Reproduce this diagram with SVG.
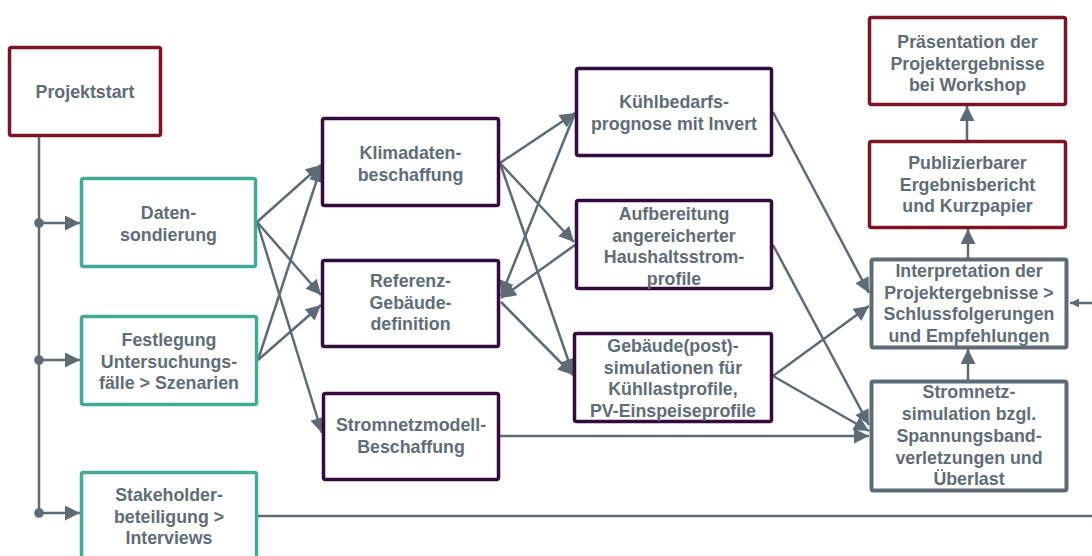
<svg xmlns="http://www.w3.org/2000/svg" width="1092" height="556" viewBox="0 0 1092 556">
<style>
.box{fill:#fff;stroke-width:3.5}
.red{stroke:#7b1523}
.pur{stroke:#340b3d}
.teal{stroke:#45aa95}
.gray{stroke:#5e6b74;stroke-width:4}
text{font-family:"Liberation Sans",Arial,sans-serif;font-weight:bold;font-size:17.8px;fill:#5f6d77;text-anchor:middle}
.c{stroke:#5e6b74;stroke-width:2.5;fill:none}
.a{marker-end:url(#ah)}
</style>
<defs>
<marker id="ah" viewBox="0 0 10 10" refX="10" refY="5" markerWidth="16" markerHeight="15" markerUnits="userSpaceOnUse" orient="auto">
<path d="M0,0 L10,5 L0,10 z" fill="#5e6b74"/>
</marker>
<marker id="ahs" viewBox="0 0 10 10" refX="10" refY="5" markerWidth="9" markerHeight="9" markerUnits="userSpaceOnUse" orient="auto">
<path d="M0,0 L10,5 L0,10 z" fill="#5e6b74"/>
</marker>
</defs>
<g id="connectors">
<line class="c" x1="39" y1="137" x2="39" y2="513"/>
<circle cx="39" cy="223" r="4.8" fill="#5e6b74"/>
<circle cx="39" cy="360" r="4.8" fill="#5e6b74"/>
<circle cx="39" cy="513" r="4.8" fill="#5e6b74"/>
<line class="c a" x1="39" y1="223" x2="80" y2="223"/>
<line class="c a" x1="39" y1="360" x2="80" y2="360"/>
<line class="c a" x1="39" y1="513" x2="80" y2="513"/>
<line class="c a" x1="257" y1="222" x2="321" y2="165"/>
<line class="c a" x1="257" y1="222" x2="321" y2="295"/>
<line class="c a" x1="257" y1="222" x2="322" y2="433"/>
<line class="c a" x1="258" y1="360" x2="321" y2="167"/>
<line class="c a" x1="258" y1="360" x2="321" y2="305"/>
<line class="c a" x1="500" y1="163" x2="575" y2="113"/>
<line class="c a" x1="500" y1="163" x2="574" y2="242"/>
<line class="c a" x1="500" y1="163" x2="573" y2="374"/>
<line class="c a" x1="575" y1="113" x2="501" y2="296"/>
<line class="c a" x1="575" y1="245" x2="501" y2="298"/>
<line class="c a" x1="501" y1="302" x2="573" y2="375"/>
<line class="c a" x1="773" y1="112" x2="869" y2="293"/>
<line class="c a" x1="773" y1="376" x2="869" y2="306"/>
<line class="c a" x1="773" y1="245" x2="869" y2="425"/>
<line class="c a" x1="773" y1="376" x2="869" y2="431"/>
<line class="c a" x1="500" y1="436" x2="869" y2="436"/>
<line class="c a" x1="968" y1="380" x2="968" y2="349"/>
<line class="c a" x1="968" y1="258" x2="968" y2="229"/>
<line class="c a" x1="967" y1="140" x2="967" y2="106"/>
<line class="c" x1="1092" y1="303" x2="1070" y2="303" marker-end="url(#ahs)"/>
<line class="c" x1="258" y1="516" x2="1092" y2="516"/>
</g>
<g id="projektstart"><rect class="box red" x="9.5" y="47.5" width="151" height="88" rx="2"/><text x="85" y="98">Projektstart</text></g>
<g id="daten"><rect class="box teal" x="81.5" y="178.5" width="174" height="88" rx="2"/><text x="168.5" y="219">Daten-</text><text x="168.5" y="240.5">sondierung</text></g>
<g id="festlegung"><rect class="box teal" x="81.5" y="316.5" width="175" height="88" rx="2"/><text x="169" y="346">Festlegung</text><text x="169" y="367.5">Untersuchungs-</text><text x="169" y="389">fälle &gt; Szenarien</text></g>
<g id="stakeholder"><rect class="box teal" x="81.5" y="472.5" width="175" height="95" rx="2"/><text x="169" y="501">Stakeholder-</text><text x="169" y="522.5">beteiligung &gt;</text><text x="169" y="544">Interviews</text></g>
<g id="klimadaten"><rect class="box pur" x="322.5" y="118.5" width="176" height="87" rx="2"/><text x="410.5" y="159">Klimadaten-</text><text x="410.5" y="180.5">beschaffung</text></g>
<g id="referenz"><rect class="box pur" x="322.5" y="260.5" width="176" height="86" rx="2"/><text x="410.5" y="287">Referenz-</text><text x="410.5" y="308.5">Gebäude-</text><text x="410.5" y="330">definition</text></g>
<g id="stromnetzmodell"><rect class="box pur" x="323.5" y="393.5" width="175" height="86" rx="2"/><text x="411" y="431">Stromnetzmodell-</text><text x="411" y="452.5">Beschaffung</text></g>
<g id="kuehlbedarf"><rect class="box pur" x="576.5" y="68.5" width="195" height="87" rx="2"/><text x="674" y="108">Kühlbedarfs-</text><text x="674" y="129.5">prognose mit Invert</text></g>
<g id="aufbereitung"><rect class="box pur" x="576.5" y="200.5" width="195" height="88" rx="2"/><text x="674" y="220">Aufbereitung</text><text x="674" y="241.5">angereicherter</text><text x="674" y="263">Haushaltsstrom-</text><text x="674" y="284.5">profile</text></g>
<g id="gebaeudesim"><rect class="box pur" x="574.5" y="333.5" width="197" height="88" rx="2"/><text x="673" y="352">Gebäude(post)-</text><text x="673" y="373.5">simulationen für</text><text x="673" y="395">Kühllastprofile,</text><text x="673" y="416.5">PV-Einspeiseprofile</text></g>
<g id="praesentation"><rect class="box red" x="869.5" y="17.5" width="196" height="87" rx="2"/><text x="967.5" y="48">Präsentation der</text><text x="967.5" y="69.5">Projektergebnisse</text><text x="967.5" y="91">bei Workshop</text></g>
<g id="publizierbar"><rect class="box red" x="869.5" y="141.5" width="196" height="86" rx="2"/><text x="967.5" y="169">Publizierbarer</text><text x="967.5" y="190.5">Ergebnisbericht</text><text x="967.5" y="212">und Kurzpapier</text></g>
<g id="interpretation"><rect class="box gray" x="871.5" y="259.5" width="195" height="88" rx="2"/><text x="969" y="277">Interpretation der</text><text x="969" y="298.5">Projektergebnisse &gt;</text><text x="969" y="320">Schlussfolgerungen</text><text x="969" y="341.5">und Empfehlungen</text></g>
<g id="stromnetzsim"><rect class="box gray" x="871.5" y="381.5" width="195" height="109" rx="2"/><text x="969" y="398">Stromnetz-</text><text x="969" y="420">simulation bzgl.</text><text x="969" y="442">Spannungsband-</text><text x="969" y="463.5">verletzungen und</text><text x="969" y="485">Überlast</text></g>
</svg>
